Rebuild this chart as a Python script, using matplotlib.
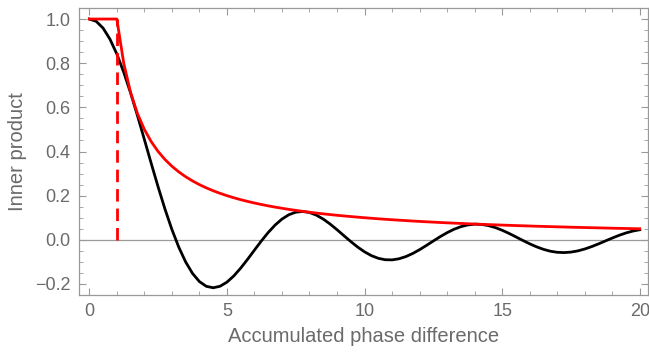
import matplotlib
matplotlib.use('Agg')
import matplotlib.pyplot as plt
from matplotlib.ticker import MultipleLocator

# Sample positions (accumulated phase difference)
phase = [0.0, 0.25, 0.5, 0.75, 1.0, 1.25, 1.5, 1.75, 2.0, 2.25, 2.5, 2.75,
         3.0, 3.25, 3.5, 3.75, 4.0, 4.25, 4.5, 4.75, 5.0, 5.25, 5.5, 5.75,
         6.0, 6.25, 6.5, 6.75, 7.0, 7.25, 7.5, 7.75, 8.0, 8.25, 8.5, 8.75,
         9.0, 9.25, 9.5, 9.75, 10.0, 10.25, 10.5, 10.75, 11.0, 11.25, 11.5, 11.75,
         12.0, 12.25, 12.5, 12.75, 13.0, 13.25, 13.5, 13.75, 14.0, 14.25, 14.5, 14.75,
         15.0, 15.25, 15.5, 15.75, 16.0, 16.25, 16.5, 16.75, 17.0, 17.25, 17.5, 17.75,
         18.0, 18.25, 18.5, 18.75, 19.0, 19.25, 19.5, 19.75, 20.0]

# Black curve: inner product
inner = [1.0, 0.9896, 0.9589, 0.9089, 0.8415, 0.7592, 0.6650, 0.5623, 0.4546, 0.3458,
         0.2394, 0.1388, 0.0470, -0.0333, -0.1002, -0.1524, -0.1892, -0.2106, -0.2172, -0.2104,
         -0.1918, -0.1636, -0.1283, -0.0884, -0.0466, -0.0053, 0.0331, 0.0667, 0.0939, 0.1136,
         0.1251, 0.1283, 0.1237, 0.1118, 0.0939, 0.0714, 0.0458, 0.0188, -0.0079, -0.0328,
         -0.0544, -0.0717, -0.0838, -0.0902, -0.0909, -0.0860, -0.0761, -0.0620, -0.0447, -0.0254,
         -0.0053, 0.0143, 0.0323, 0.0477, 0.0595, 0.0673, 0.0708, 0.0697, 0.0645, 0.0555,
         0.0434, 0.0290, 0.0133, -0.0027, -0.0180, -0.0317, -0.0431, -0.0516, -0.0566, -0.0579,
         -0.0557, -0.0502, -0.0417, -0.0309, -0.0186, -0.0053, 0.0079, 0.0203, 0.0311, 0.0396,
         0.0456]

# Red curve: envelope
envelope = [1.0, 1.0, 1.0, 1.0, 1.0, 0.8, 0.6667, 0.5714, 0.5, 0.4444,
            0.4, 0.3636, 0.3333, 0.3077, 0.2857, 0.2667, 0.25, 0.2353, 0.2222, 0.2105,
            0.2, 0.1905, 0.1818, 0.1739, 0.1667, 0.16, 0.1538, 0.1481, 0.1429, 0.1379,
            0.1333, 0.1290, 0.125, 0.1212, 0.1176, 0.1143, 0.1111, 0.1081, 0.1053, 0.1026,
            0.1, 0.0976, 0.0952, 0.0930, 0.0909, 0.0889, 0.0870, 0.0851, 0.0833, 0.0816,
            0.08, 0.0784, 0.0769, 0.0755, 0.0741, 0.0727, 0.0714, 0.0702, 0.0690, 0.0678,
            0.0667, 0.0656, 0.0645, 0.0635, 0.0625, 0.0615, 0.0606, 0.0597, 0.0588, 0.0580,
            0.0571, 0.0563, 0.0556, 0.0548, 0.0541, 0.0533, 0.0526, 0.0519, 0.0513, 0.0506,
            0.05]

# Dashed cutoff marker
cutoff_x = 1.0
cutoff_y = [0.0, 1.0]

gray = '#6a6a6a'
plt.rcParams['font.family'] = ['Liberation Sans', 'DejaVu Sans']

fig = plt.figure(figsize=(6.49, 3.54), dpi=100)
ax = fig.add_axes([79 / 649, 59 / 354, 569 / 649, 287 / 354])

ax.axhline(0, color='#999999', lw=0.9, zorder=1)
ax.plot(phase, inner, color='black', lw=2.0, zorder=3)
ax.plot(phase, envelope, color='#ff0000', lw=2.0, zorder=4)
ax.plot([cutoff_x, cutoff_x], cutoff_y, color='#ff0000', lw=2.0,
        linestyle=(0, (4.5, 2.5)), zorder=4)

ax.set_xlim(-0.375, 20.3)
ax.set_ylim(-0.25, 1.05)

ax.xaxis.set_major_locator(MultipleLocator(5))
ax.xaxis.set_minor_locator(MultipleLocator(1))
ax.yaxis.set_major_locator(MultipleLocator(0.2))
ax.yaxis.set_minor_locator(MultipleLocator(0.05))
ax.set_yticks([-0.2, 0.0, 0.2, 0.4, 0.6, 0.8, 1.0])
ax.set_yticklabels(['\u22120.2', '0.0', '0.2', '0.4', '0.6', '0.8', '1.0'])

for s in ax.spines.values():
    s.set_color('#999999')
    s.set_linewidth(0.9)

ax.tick_params(which='both', direction='in', top=True, right=True,
               color='#999999', labelcolor=gray, labelsize=13)
ax.tick_params(which='major', length=5, width=0.8, pad=6)
ax.tick_params(which='minor', length=3, width=0.6)

ax.set_xlabel('Accumulated phase difference', fontsize=14.5, color=gray, labelpad=5)
ax.set_ylabel('Inner product', fontsize=14.5, color=gray, labelpad=6)

fig.savefig('out.png', dpi=100)
